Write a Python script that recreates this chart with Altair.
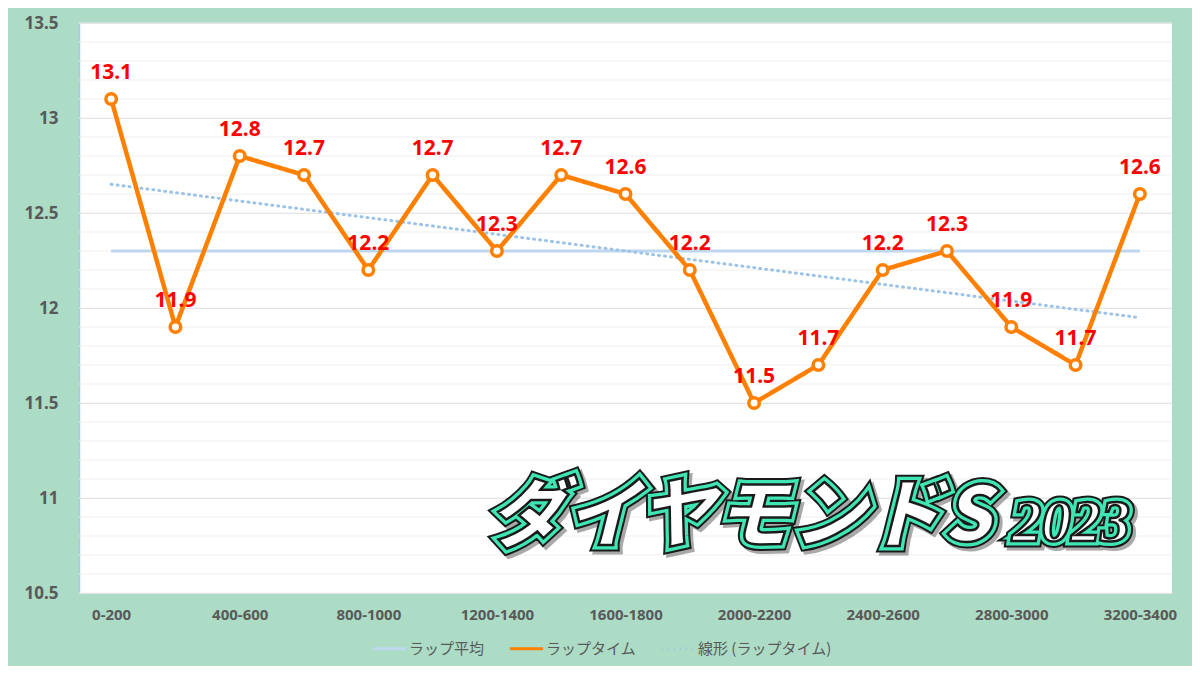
import json
import altair as alt
import pandas as pd

# 区間 (m) とラップタイム (秒)
sections = ["0-200", "200-400", "400-600", "600-800", "800-1000", "1000-1200",
            "1200-1400", "1400-1600", "1600-1800", "1800-2000", "2000-2200",
            "2200-2400", "2400-2600", "2600-2800", "2800-3000", "3000-3200",
            "3200-3400"]
lap_times = [13.1, 11.9, 12.8, 12.7, 12.2, 12.7, 12.3, 12.7, 12.6, 12.2,
             11.5, 11.7, 12.2, 12.3, 11.9, 11.7, 12.6]
series_names = ["ラップ平均", "ラップタイム", "線形 (ラップタイム)"]
series_colors = ["#bdd7ee", "#ff8000", "#9dc3e6"]
series_dash = [[1, 0], [1, 0], [1, 5]]
x_tick_idx = list(range(0, len(sections), 2))
y_ticks = [10.5, 11, 11.5, 12, 12.5, 13, 13.5]
minor_grid = [round(10.5 + 0.1 * i, 1) for i in range(31)]
title_main = "ダイヤモンドS"
title_year = "2023"

df = pd.DataFrame({"idx": list(range(len(sections))), "区間": sections, "タイム": lap_times})
grid_df = pd.DataFrame({"v": minor_grid})

W, H = 1093, 570
LABEL_FONT = "Noto Sans"
JP_FONT = "Noto Sans CJK JP"

x_enc = alt.X("idx:Q",
              scale=alt.Scale(domain=[-0.5, len(sections) - 0.5], nice=False, zero=False),
              axis=alt.Axis(values=x_tick_idx, labelExpr=json.dumps(sections) + "[datum.value]",
                            grid=False, ticks=False, domain=False, labelPadding=14,
                            labelFontSize=15, labelFontWeight="bold", labelColor="#595959",
                            labelFont=LABEL_FONT),
              title=None)
y_scale = alt.Scale(domain=[10.5, 13.5], nice=False, zero=False)
y_axis = alt.Axis(values=y_ticks, format="~g", grid=True, gridColor="#d9d9d9", ticks=False,
                  domainColor="#a9c9e8", domainWidth=1.5, labelPadding=21,
                  labelFontSize=17, labelFontWeight="bold", labelColor="#595959",
                  labelFont=LABEL_FONT)


def y_of(field):
    return alt.Y(field, scale=y_scale, axis=y_axis, title=None)


color_scale = alt.Scale(domain=series_names, range=series_colors)
dash_scale = alt.Scale(domain=series_names, range=series_dash)
color_enc = alt.Color("系列:N", scale=color_scale, title=None)
dash_enc = alt.StrokeDash("系列:N", scale=dash_scale, title=None)

base = alt.Chart(df)

minor = alt.Chart(grid_df).mark_rule(color="#efefef", strokeWidth=1).encode(
    y=y_of("v:Q"))

avg_line = base.transform_joinaggregate(avg="mean(タイム)").transform_calculate(
    系列="'ラップ平均'").mark_line(strokeWidth=3).encode(
    x=x_enc, y=y_of("avg:Q"), color=color_enc, strokeDash=dash_enc)

trend = base.transform_regression("idx", "タイム").transform_calculate(
    系列="'線形 (ラップタイム)'").mark_line(strokeWidth=3, strokeCap="round").encode(
    x=x_enc, y=y_of("タイム:Q"), color=color_enc, strokeDash=dash_enc)

lap_line = base.transform_calculate(系列="'ラップタイム'").mark_line(strokeWidth=4.5).encode(
    x=x_enc, y=y_of("タイム:Q"), color=color_enc, strokeDash=dash_enc)

points = base.mark_point(filled=True, fill="white", stroke="#ff8000", strokeWidth=3.5,
                         size=110, opacity=1).encode(
    x=x_enc, y=y_of("タイム:Q"))

labels = base.mark_text(dy=-26, fontSize=21, fontWeight="bold", color="#ff0000",
                        font=LABEL_FONT).encode(
    x=x_enc, y=y_of("タイム:Q"),
    text=alt.Text("タイム:Q", format=".1f"))


def title_layer(text, x, y, size, font, **style):
    return alt.Chart(pd.DataFrame({"t": [text]})).mark_text(
        align="left", baseline="alphabetic", fontSize=size, font=font,
        fontWeight=900, fontStyle="italic", **style).encode(
        x=alt.value(x), y=alt.value(y), text="t:N")


title_layers = []
for txt, tx, ty, sz, fnt in [(title_main, 410, 518, 76, JP_FONT),
                             (title_year, 933, 518, 59, "Liberation Serif")]:
    title_layers += [
        title_layer(txt, tx + 3, ty + 3, sz, fnt, fill="#555555", stroke="#555555",
                    strokeWidth=13, opacity=0.5),
        title_layer(txt, tx, ty, sz, fnt, fill="#1a1a1a", stroke="#1a1a1a", strokeWidth=13),
        title_layer(txt, tx, ty, sz, fnt, fill="#3fe6b4", stroke="#3fe6b4", strokeWidth=9),
        title_layer(txt, tx, ty, sz, fnt, fill="white", stroke="#1a1a1a", strokeWidth=2.5),
    ]

chart = alt.layer(minor, avg_line, trend, lap_line, points, labels, *title_layers).properties(
    width=W, height=H,
    autosize=alt.AutoSizeParams(type="none"),
    padding={"left": 71, "top": 15, "right": 20, "bottom": 73},
    background="#acdcc6",
).configure_view(fill="white", strokeWidth=0).configure_legend(
    orient="none", legendX=292, legendY=607, direction="horizontal",
    labelFont=JP_FONT, labelFontSize=15, labelColor="#595959",
    symbolSize=1100, symbolStrokeWidth=3, columnPadding=18, labelOffset=1,
)

chart.save("out.html", embed_options={"renderer": "svg", "actions": False})
